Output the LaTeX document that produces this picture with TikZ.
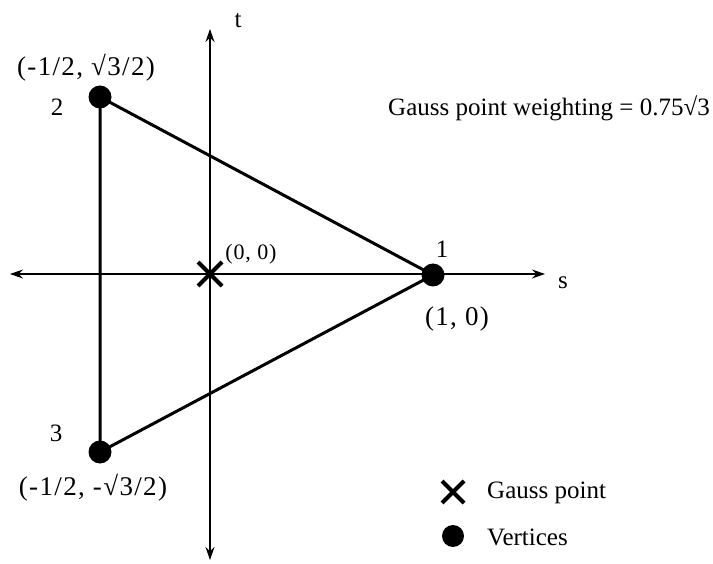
\documentclass[tikz,border=0pt]{standalone}
\usepackage{fontspec}
\setmainfont{Liberation Serif}
\usetikzlibrary{arrows.meta}
\begin{document}
\begin{tikzpicture}[x=1pt,y=-1pt,
  axis/.style={line width=1.1pt,-{Stealth[length=13pt,width=9pt]}},
  edge/.style={line width=3pt},
  vtx/.style={circle,fill=black,inner sep=0pt,minimum size=23pt},
  lbl/.style={font=\fontsize{25}{29}\selectfont,inner sep=0pt},
  coordlbl/.style={font=\fontsize{27}{31}\selectfont\addfontfeature{LetterSpace=5},inner sep=0pt},
  cross/.style={line width=4pt}]
\useasboundingbox (0,0) rectangle (713,564);
\coordinate (o) at (210,274);
\coordinate (ttop) at (210,29);
\coordinate (tbot) at (210,560);
\coordinate (sleft) at (10,274);
\coordinate (sright) at (545,274);
\draw[axis] (o) -- (ttop);
\draw[axis] (o) -- (tbot);
\draw[axis] (o) -- (sleft);
\draw[axis] (o) -- (sright);
\node[vtx] (v1) at (433,275) {};
\node[vtx] (v2) at (100,97) {};
\node[vtx] (v3) at (100,452) {};
\draw[edge] (v1.center) -- (v2.center) -- (v3.center) -- cycle;
\draw[cross] (198,262) -- (222,286) (198,286) -- (222,262);
\node[lbl] (tl) at (238,21) {t};
\node[lbl] (sl2) at (563,283) {s};
\node[coordlbl] (c2) at (86,68) {(-1/2, √3/2)};
\node[lbl] (n2) at (57,107) {2};
\node[lbl] (n1) at (442,249) {1};
\node[coordlbl] (c1) at (457,319) {(1, 0)};
\node[lbl] (n3) at (56,433) {3};
\node[coordlbl] (c3) at (93,488) {(-1/2, -√3/2)};
\node[lbl,font=\fontsize{22}{26}\selectfont\addfontfeature{LetterSpace=4}] (c0) at (251,254) {(0, 0)};
\node[lbl] (gw) at (549,108) {Gauss point weighting = 0.75√3};
\draw[cross] (442,481) -- (464,503) (442,503) -- (464,481);
\node[vtx,minimum size=22pt] (lv) at (453,536) {};
\node[lbl,anchor=west] (lg) at (487,493) {Gauss point};
\node[lbl,anchor=west] (lvt) at (487,537) {Vertices};
\end{tikzpicture}
\end{document}
